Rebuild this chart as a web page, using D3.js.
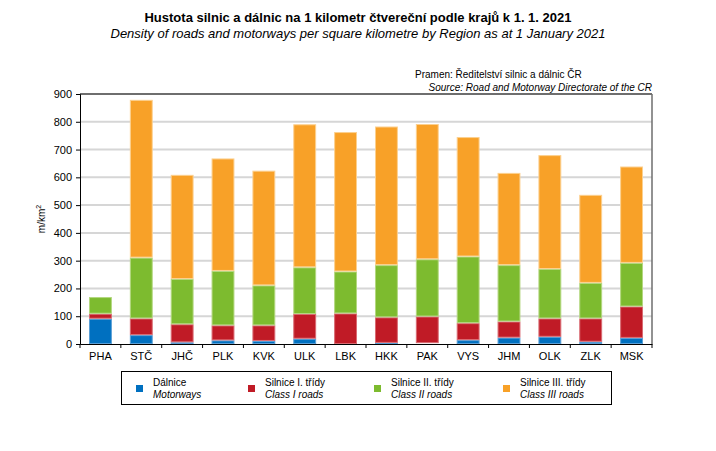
<!DOCTYPE html>
<html><head><meta charset="utf-8">
<script src="https://cdn.jsdelivr.net/npm/d3@7/dist/d3.min.js"></script>
<style>body{margin:0;background:#fff;}svg{display:block;font-family:"Liberation Sans",Arial,sans-serif;}</style>
</head><body>
<script>
const categories = ["PHA","STČ","JHČ","PLK","KVK","ULK","LBK","HKK","PAK","VYS","JHM","OLK","ZLK","MSK"];
const motorways = [91, 32, 6, 13, 11, 19, 0, 4, 3, 14, 23, 26, 8, 22];
const classI    = [18, 60, 65, 54, 56, 89, 110, 92, 96, 61, 58, 66, 84, 113];
const classII   = [60, 219, 163, 196, 144, 168, 151, 188, 206, 240, 203, 178, 128, 157];
const classIII  = [1, 568, 375, 405, 413, 515, 502, 499, 487, 430, 332, 410, 317, 347];
const yTicks = [0,100,200,300,400,500,600,700,800,900];
const seriesNames = [["Dálnice","Motorways"],["Silnice I. třídy","Class I roads"],["Silnice II. třídy","Class II roads"],["Silnice III. třídy","Class III roads"]];
const colors = ["#0070c0","#c01b26","#7dbb2f","#f8a128"];
const strokes = ["#5a9fd6","#d96a72","#b3d77f","#fcd08f"];

const W=716,H=451;
const svg=d3.select("body").append("svg").attr("width",W).attr("height",H);
const m={l:80,r:652,t:94,b:344};
const x=d3.scaleBand().domain(categories).range([m.l,m.r]).paddingInner(0.44).paddingOuter(0.22);
const y=d3.scaleLinear().domain([0,900]).range([m.b,m.t]);

// titles
svg.append("text").attr("x",358).attr("y",22).attr("text-anchor","middle").attr("font-size",13).attr("font-weight","bold").attr("textLength",0).text("Hustota silnic a dálnic na 1 kilometr čtvereční podle krajů k 1. 1. 2021");
svg.append("text").attr("x",358).attr("y",38).attr("text-anchor","middle").attr("font-size",13).attr("font-style","italic").text("Density of roads and motorways per square kilometre by Region as at 1 January 2021");
svg.append("text").attr("x",415).attr("y",78).attr("font-size",10).text("Pramen: Ředitelství silnic a dálnic ČR");
svg.append("text").attr("x",652).attr("y",91).attr("text-anchor","end").attr("font-size",10).attr("font-style","italic").text("Source: Road and Motorway Directorate of the CR");

// grid
svg.append("g").selectAll("line").data(yTicks.filter(d=>d>0&&d<900)).join("line")
 .attr("x1",m.l).attr("x2",m.r).attr("y1",d=>y(d)).attr("y2",d=>y(d))
 .attr("stroke","#d6d6d6").attr("stroke-width",2);
// frame top/right
svg.append("line").attr("x1",m.l).attr("x2",m.r).attr("y1",m.t).attr("y2",m.t).attr("stroke","#6e6e6e").attr("stroke-width",2);
svg.append("line").attr("x1",m.r).attr("x2",m.r).attr("y1",m.t).attr("y2",m.b).attr("stroke","#6e6e6e").attr("stroke-width",1.5);

// bars
const data=categories.map((c,i)=>({c,v:[motorways[i],classI[i],classII[i],classIII[i]]}));
const stack=d3.stack().keys([0,1,2,3]).value((d,k)=>d.v[k]);
const series=stack(data);
svg.append("g").selectAll("g").data(series).join("g")
 .attr("fill",(d,i)=>colors[i]).attr("stroke",(d,i)=>strokes[i]).attr("stroke-width",1)
 .selectAll("rect").data(d=>d).join("rect")
 .attr("x",d=>x(d.data.c)+0.5).attr("width",x.bandwidth()-1)
 .attr("y",d=>y(d[1])+0.5).attr("height",d=>Math.max(0,y(d[0])-y(d[1])-1));

// y axis
const ya=svg.append("g").attr("transform",`translate(${m.l},0)`).call(d3.axisLeft(y).tickValues(yTicks).tickSize(4).tickPadding(4).tickFormat(d3.format("d")));
ya.select(".domain").attr("stroke","#000");
ya.selectAll("text").attr("font-size",11).attr("font-family","Liberation Sans, Arial, sans-serif").attr("fill","#000");
// x axis
const xa=svg.append("g").attr("transform",`translate(0,${m.b})`).call(d3.axisBottom(x).tickSize(0).tickPadding(8));
xa.select(".domain").attr("stroke","#000");
xa.selectAll("text").attr("font-size",11).attr("font-family","Liberation Sans, Arial, sans-serif").attr("fill","#000");
const step=(m.r-m.l)/categories.length;
svg.append("g").selectAll("line").data(d3.range(categories.length+1)).join("line")
 .attr("x1",i=>m.l+i*step).attr("x2",i=>m.l+i*step).attr("y1",m.b).attr("y2",m.b+4).attr("stroke","#000");

// y title
svg.append("text").attr("transform","translate(45,219) rotate(-90)").attr("text-anchor","middle").attr("font-size",10).html('m/km<tspan font-size="7" dy="-4">2</tspan>');

// legend
svg.append("rect").attr("x",121.5).attr("y",371.5).attr("width",490).attr("height",33).attr("fill","none").attr("stroke","#000");
const lx=[136,248,374,503];
seriesNames.forEach((n,i)=>{
 svg.append("rect").attr("x",lx[i]).attr("y",385).attr("width",7).attr("height",7).attr("fill",colors[i]);
 svg.append("text").attr("x",lx[i]+17).attr("y",386).attr("font-size",10).text(n[0]);
 svg.append("text").attr("x",lx[i]+17).attr("y",398).attr("font-size",10).attr("font-style","italic").text(n[1]);
});
</script>
</body></html>
